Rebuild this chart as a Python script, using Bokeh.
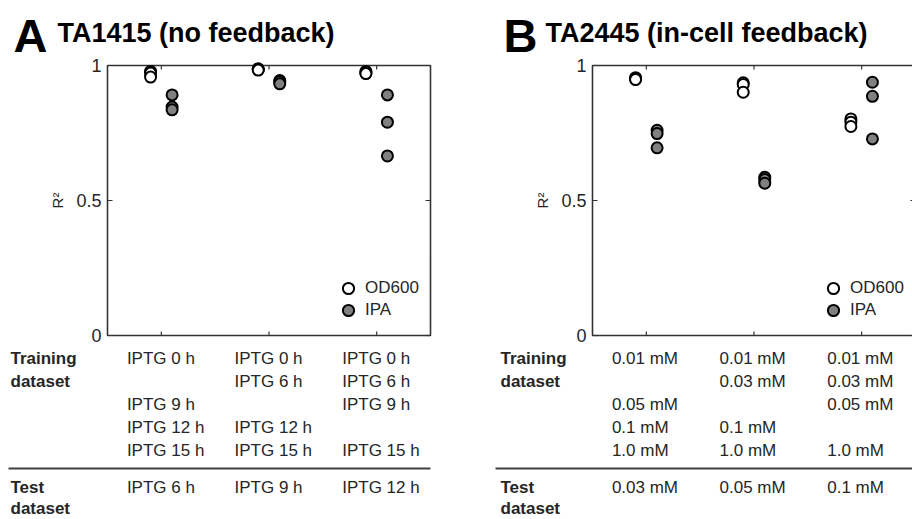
import math
from bokeh.plotting import figure
from bokeh.models import Range1d, Legend, LegendItem
from bokeh.core.properties import value
from bokeh.layouts import row
from bokeh.embed import file_html
from bokeh.resources import INLINE

# ---------------- data ----------------
groups = [1, 2, 3]
# Panel A: TA1415 (no feedback)
od600_A = [[0.978, 0.972, 0.957], [0.988, 0.985, 0.983], [0.978, 0.972, 0.970]]
ipa_A = [[0.891, 0.846, 0.836], [0.944, 0.940, 0.932], [0.891, 0.790, 0.665]]
conditions_A = ["IPTG 0 h", "IPTG 6 h", "IPTG 9 h", "IPTG 12 h", "IPTG 15 h"]
test_A = ["IPTG 6 h", "IPTG 9 h", "IPTG 12 h"]
# Panel B: TA2445 (in-cell feedback)
od600_B = [[0.955, 0.950, 0.948], [0.936, 0.930, 0.901], [0.802, 0.790, 0.774]]
ipa_B = [[0.760, 0.748, 0.695], [0.586, 0.578, 0.564], [0.938, 0.886, 0.728]]
conditions_B = ["0.01 mM", "0.03 mM", "0.05 mM", "0.1 mM", "1.0 mM"]
test_B = ["0.03 mM", "0.05 mM", "0.1 mM"]
y_ticks = [0, 0.5, 1]
y_tick_labels = ["0", "0.5", "1"]
x_lim = (0.5, 3.5)
y_lim = (0, 1)

FONT = value("Liberation Sans")
TXT = "#262626"
AX = "#333333"
H = 519
FRAME_TOP, FRAME_H = 65, 270
FRAME_BOTTOM = FRAME_TOP + FRAME_H
PX_PER_UNIT = 323 / 3.0


def Y(page_y):
    return y_lim[0] + (FRAME_BOTTOM - page_y) / FRAME_H * (y_lim[1] - y_lim[0])


def panel(fig_left, width, frame_left, letter, title, letter_x, title_x,
          od, ipa, conditions, tests, label_x, line_x0):
    def X(page_x):
        return x_lim[0] + (page_x - frame_left) / PX_PER_UNIT

    x_end = X(fig_left + width)
    p = figure(width=width, height=H, x_range=Range1d(X(fig_left), x_end), y_range=Range1d(Y(H), Y(0)),
               min_border=0, x_axis_type=None, y_axis_type=None, outline_line_color=None,
               toolbar_location=None, output_backend="svg")

    # axes box
    p.quad(left=[x_lim[0]], right=[x_lim[1]], bottom=[y_lim[0]], top=[y_lim[1]],
           fill_color=None, line_color=AX, line_width=1.6)
    # inward ticks
    p.ray(x=[x_lim[0]] * 3, y=y_ticks, length=5, length_units="screen", angle=0, line_color=AX, line_width=1.2)
    p.ray(x=[x_lim[1]] * 3, y=y_ticks, length=5, length_units="screen", angle=math.pi, line_color=AX, line_width=1.2)
    p.ray(x=groups, y=[y_lim[0]] * 3, length=4, length_units="screen", angle=math.pi / 2, line_color=AX, line_width=1.2)
    p.ray(x=groups, y=[y_lim[1]] * 3, length=4, length_units="screen", angle=-math.pi / 2, line_color=AX, line_width=1.2)
    # y tick labels and axis label
    p.text(x=[x_lim[0]] * 3, y=y_ticks, text=y_tick_labels, x_offset=-6, text_font=FONT,
           text_font_size="18px", text_color=TXT, text_align="right", text_baseline="middle")
    p.text(x=[X(frame_left - 50)], y=[(y_lim[0] + y_lim[1]) / 2], text=["R²"], angle=math.pi / 2,
           text_font=FONT, text_font_size="15px", text_color=TXT, text_align="center", text_baseline="middle")

    # data points
    ox, oy, ix, iy = [], [], [], []
    for g, vals in zip(groups, od):
        for v in vals:
            ox.append(g - 0.1)
            oy.append(v)
    for g, vals in zip(groups, ipa):
        for v in vals:
            ix.append(g + 0.1)
            iy.append(v)
    r1 = p.scatter(ox, oy, size=11, fill_color="white", line_color="black", line_width=2)
    r2 = p.scatter(ix, iy, size=11, fill_color="#808080", line_color="black", line_width=2)
    leg_x = 241 - 14 + (frame_left - fig_left)
    for lab, r, dy in (("OD600", r1, 47), ("IPA", r2, 25)):
        leg = Legend(items=[LegendItem(label=lab, renderers=[r])],
                     location=(leg_x, H - FRAME_BOTTOM + dy - 14),
                     border_line_color=None, background_fill_alpha=0,
                     glyph_width=28, glyph_height=28, padding=0, margin=0, label_standoff=3,
                     label_text_font="Liberation Sans", label_text_font_size="17px", label_text_color=TXT)
        p.add_layout(leg)

    # panel titles
    p.text(x=[X(letter_x)], y=[Y(35)], text=[letter], text_font=FONT, text_font_size="47px",
           text_font_style="bold", text_color="black", text_align="left", text_baseline="middle")
    p.text(x=[X(title_x)], y=[Y(32)], text=[title], text_font=FONT, text_font_size="27px",
           text_font_style="bold", text_color="black", text_align="left", text_baseline="middle")

    # table below the axes
    row_y = [Y(358 + 23 * j) for j in range(len(conditions))]
    test_y = Y(487)
    xs, ys, txt = [], [], []
    for g, test in zip(groups, tests):
        for j, c in enumerate(conditions):
            if c != test:
                xs.append(g - 0.32)
                ys.append(row_y[j])
                txt.append(c)
        xs.append(g - 0.32)
        ys.append(test_y)
        txt.append(test)
    p.text(x=xs, y=ys, text=txt, text_font=FONT, text_font_size="17px", text_color=TXT,
           text_align="left", text_baseline="middle")
    p.text(x=[X(label_x)] * 4, y=[row_y[0], row_y[1], test_y, Y(508)],
           text=["Training", "dataset", "Test", "dataset"], text_font=FONT, text_font_size="17px",
           text_font_style="bold", text_color=TXT, text_align="left", text_baseline="middle")
    p.segment(x0=[X(line_x0)], y0=[Y(468)], x1=[min(x_lim[1], x_end)], y1=[Y(468)],
              line_color="#404040", line_width=2)
    return p


pA = panel(0, 480, 107, "A", "TA1415 (no feedback)", 13, 57,
           od600_A, ipa_A, conditions_A, test_A, 10, 8)
pB = panel(480, 432, 592, "B", "TA2445 (in-cell feedback)", 503, 545,
           od600_B, ipa_B, conditions_B, test_B, 500, 495)

layout = row(pA, pB)
open("out.html", "w").write(file_html(layout, INLINE))
